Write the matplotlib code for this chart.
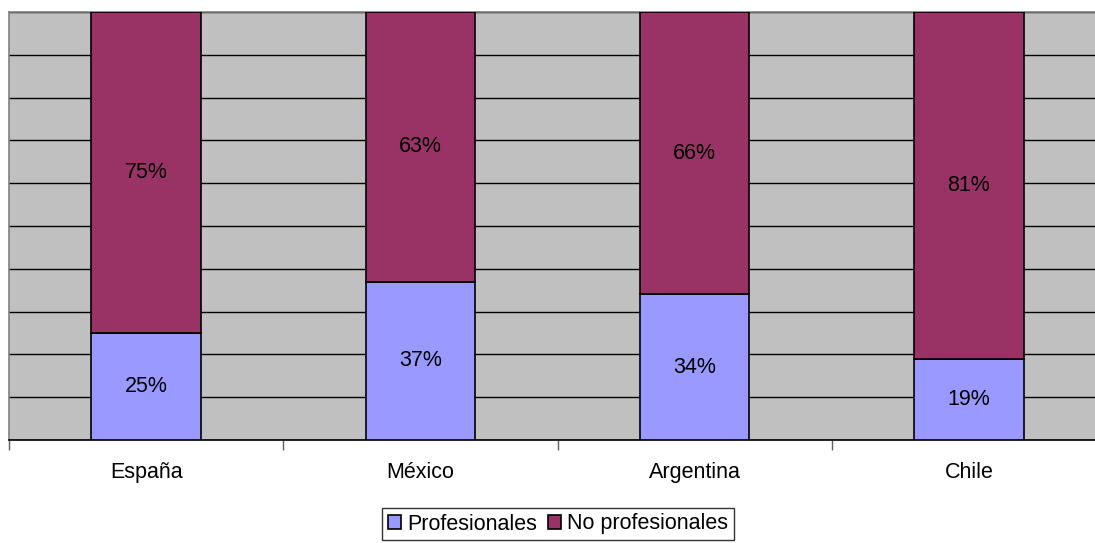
import numpy as np
import matplotlib.pyplot as plt
from matplotlib.ticker import MultipleLocator

plt.rcParams['font.family'] = ['Liberation Sans', 'DejaVu Sans']

paises = ['España', 'México', 'Argentina', 'Chile']
profesionales = [25, 37, 34, 19]
no_profesionales = [75, 63, 66, 81]

azul = '#9999FF'
granate = '#993366'
fs = 15.5

fig = plt.figure(figsize=(10.95, 5.43), dpi=100)
ax = fig.add_axes([9/1095, 103/543, 1097/1095, 428/543])
ax.set_facecolor('#C0C0C0')

x = np.arange(len(paises))
b1 = ax.bar(x, profesionales, 0.4, color=azul, edgecolor='black', linewidth=1.2,
            label='Profesionales', zorder=3)
b2 = ax.bar(x, no_profesionales, 0.4, bottom=profesionales, color=granate,
            edgecolor='black', linewidth=1.2, label='No profesionales', zorder=3)

for i in range(len(paises)):
    ax.text(x[i], profesionales[i] / 2, f'{profesionales[i]}%', ha='center',
            va='center', fontsize=fs, zorder=4)
    ax.text(x[i], profesionales[i] + no_profesionales[i] / 2, f'{no_profesionales[i]}%',
            ha='center', va='center', fontsize=fs, zorder=4)

ax.set_xlim(-0.5, len(paises) - 0.5)
ax.set_ylim(0, 100)
ax.yaxis.set_major_locator(MultipleLocator(10))
ax.grid(axis='y', color='black', linewidth=1, zorder=1)
ax.tick_params(axis='y', left=False, labelleft=False)

ax.set_xticks(x)
ax.set_xticklabels(paises, fontsize=fs)
ax.set_xticks(np.arange(-0.5, len(paises), 1), minor=True)
ax.tick_params(axis='x', which='major', length=0, pad=16)
ax.tick_params(axis='x', which='minor', length=7, color='#606060', width=1)

ax.spines['left'].set_color('#808080')
ax.spines['top'].set_color('#808080')
ax.spines['right'].set_visible(False)
ax.spines['bottom'].set_color('black')
for s in ax.spines.values():
    s.set_linewidth(1.2)

leg = fig.legend(handles=[b1, b2], loc='center', bbox_to_anchor=(558/1095, 19/543),
                 ncol=2, fontsize=fs, frameon=True, fancybox=False, edgecolor='black',
                 handlelength=0.6, handleheight=0.6, handletextpad=0.3,
                 columnspacing=0.5, borderpad=0.25, borderaxespad=0)
leg.get_frame().set_linewidth(1)

fig.savefig('out.png', dpi=100)
